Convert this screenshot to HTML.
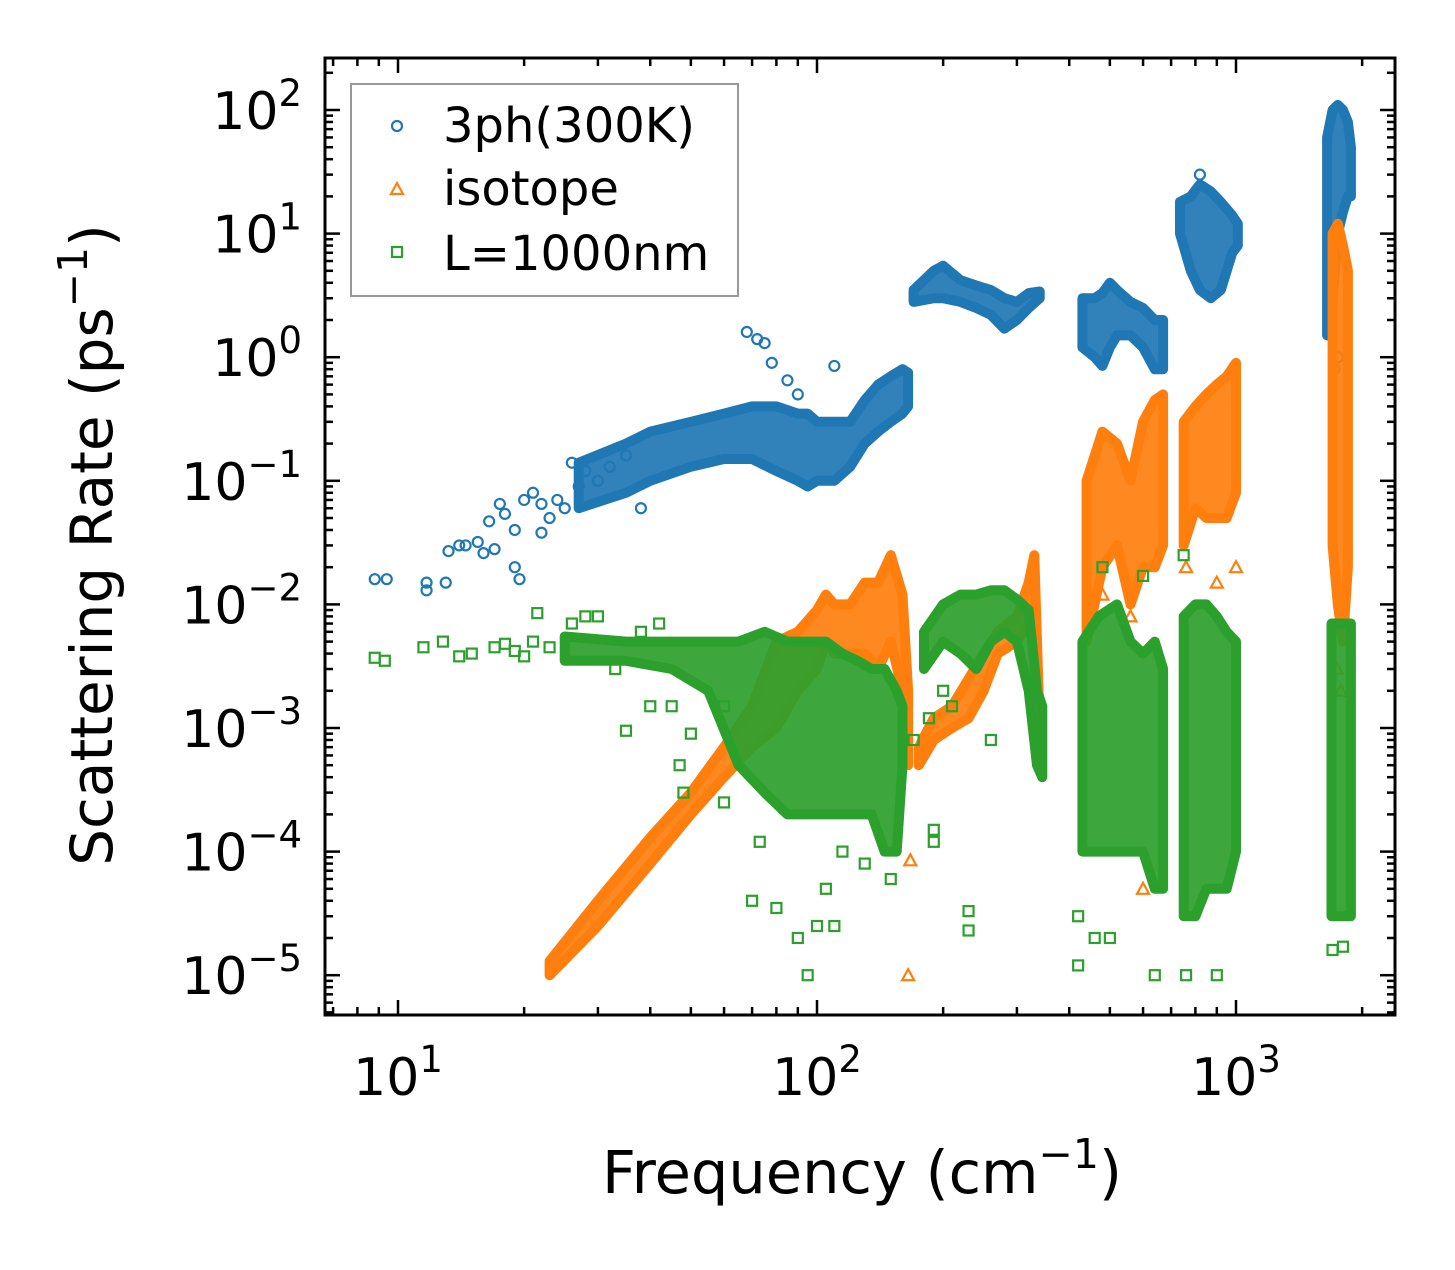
<!DOCTYPE html>
<html><head><meta charset="utf-8"><style>
html,body{margin:0;padding:0;background:#fff}
svg text{font-family:"DejaVu Sans","Liberation Sans",sans-serif;fill:#000}
</style></head><body>
<svg id="chart" width="1455" height="1265" viewBox="0 0 1455 1265" xmlns="http://www.w3.org/2000/svg">
<rect width="1455" height="1265" fill="#fff"/>
<defs><clipPath id="clip"><rect x="325" y="58" width="1070" height="957"/></clipPath></defs>
<g id="marks" clip-path="url(#clip)"></g>
<g id="axes"></g>
<g>
<rect x="351" y="84" width="387" height="212" fill="#fff" fill-opacity="0.8" stroke="#999" stroke-width="2"/>
<circle cx="397" cy="126" r="5" fill="none" stroke="#1f77b4" stroke-width="2.2"/>
<text x="443" y="142" font-size="48">3ph(300K)</text>
<polygon points="397,183 403,194 391,194" fill="none" stroke="#ff7f0e" stroke-width="2.2"/>
<text x="443" y="205" font-size="48">isotope</text>
<rect x="392" y="247" width="10" height="10" fill="none" stroke="#2ca02c" stroke-width="2.2"/>
<text x="443" y="270" font-size="48">L=1000nm</text>
</g>
<text x="862" y="1193" font-size="59" text-anchor="middle">Frequency (cm<tspan dy="-25" font-size="41">−1</tspan><tspan dy="25">)</tspan></text>
<text transform="translate(112,545) rotate(-90)" font-size="58" text-anchor="middle">Scattering Rate (ps<tspan dy="-25" font-size="41">−1</tspan><tspan dy="25">)</tspan></text>
</svg>
<script>
// ---- axis config ----
const xTickExp = [1, 2, 3];
const yTickExp = [2, 1, 0, -1, -2, -3, -4, -5];
// ---- 3ph (blue) ----
const blueBandF  = [[27,35,40,50,60,70,80,90,95,100,110,120,130,140,150,160,165],[170,190,200,220,240,260,280,300,320,340],[430,460,480,500,520,560,600,640,670],[735,780,820,870,920,980,1010],[1650,1700,1750,1800,1850,1880]];
const blueBandLo = [[0.06,0.08,0.1,0.13,0.15,0.15,0.12,0.1,0.09,0.1,0.1,0.13,0.2,0.25,0.3,0.35,0.4],[2.8,3,3,2.8,2.5,2.2,1.7,2,2.5,3],[1.2,1,0.85,1.2,1.5,1.5,1.2,0.8,0.8],[10,5,3.5,3,3.5,7,8],[1.5,3,10,15,20,20]];
const blueBandHi = [[0.14,0.2,0.25,0.3,0.35,0.4,0.4,0.35,0.35,0.3,0.3,0.3,0.45,0.6,0.7,0.8,0.75],[3.5,5,5.5,4.2,3.8,3.5,3,2.8,3.3,3.4],[3,3,3.3,4,3.5,2.8,2.5,2,2],[18,20,25,22,18,14,12],[60,100,110,100,80,50]];
const blueF = [8.8,9.4,11.7,11.7,13,13.2,14,14.5,15.5,16,16.5,17,17.5,18,19,19.5,19,20,21,22,22,23,24,25,26,27,28,30,32,35,38,68,72,75,78,85,90,110,820,1750,1720];
const blueR = [0.016,0.016,0.013,0.015,0.015,0.027,0.03,0.03,0.032,0.026,0.047,0.028,0.065,0.054,0.02,0.016,0.04,0.07,0.08,0.038,0.065,0.05,0.07,0.06,0.14,0.09,0.12,0.1,0.13,0.16,0.06,1.6,1.4,1.3,0.9,0.65,0.5,0.85,30,1.0,0.8];
// ---- isotope (orange) ----
const orBandF  = [[23,30,40,50,60,70,80,90,100,105,110,120,130,140,150,160,165],[175,190,210,230,250,270,300,320,330,340],[440,480,520,560,600,640,670],[750,800,850,900,950,1000],[1700,1750,1800,1850]];
const orBandLo = [[1e-5,2.5e-5,8e-5,2e-4,4e-4,7e-4,1e-3,2e-3,3e-3,5e-3,4e-3,4e-3,4e-3,3e-3,5e-3,2e-3,5e-4],[5e-4,8e-4,1e-3,1.2e-3,2e-3,4e-3,5e-3,7e-3,8e-3,5e-4],[5e-3,0.02,0.03,0.01,0.02,0.02,0.03],[0.03,0.06,0.05,0.05,0.05,0.08],[0.03,0.01,0.005,0.02]];
const orBandHi = [[1.3e-5,4e-5,1.3e-4,3e-4,7e-4,1.5e-3,5e-3,6e-3,9e-3,1.2e-2,1e-2,1e-2,1.5e-2,1.5e-2,2.5e-2,1.2e-2,2e-3],[7e-4,1.2e-3,1.5e-3,2.5e-3,4e-3,6e-3,8e-3,1.5e-2,2.5e-2,1e-3],[0.1,0.25,0.2,0.1,0.3,0.45,0.5],[0.3,0.4,0.5,0.6,0.7,0.9],[10,12,8,5]];
const orF = [165,600,167,480,560,760,900,1000,1740,1780];
const orR = [1e-5,5e-5,8.5e-5,0.012,0.008,0.02,0.015,0.02,0.003,0.002];
// ---- L=1000nm (green) ----
const grBandF  = [[25,35,45,55,65,75,85,95,105,115,125,135,145,155,160],[180,200,220,240,260,280,300,320,335,345],[430,470,520,560,600,640,670],[750,800,850,900,950,1000],[1690,1760,1830,1880]];
const grBandLo = [[3.5e-3,3.5e-3,3e-3,2e-3,5e-4,3e-4,2e-4,2e-4,2e-4,2e-4,2e-4,2e-4,1e-4,1e-4,5e-4],[3e-3,5e-3,4e-3,3e-3,5e-3,6e-3,5e-3,2e-3,5e-4,4e-4],[1e-4,1e-4,1e-4,1e-4,1e-4,5e-5,5e-5],[3e-5,3e-5,5e-5,5e-5,5e-5,1e-4],[3e-5,3e-5,3e-5,3e-5]];
const grBandHi = [[5.5e-3,5e-3,5e-3,5e-3,5e-3,6e-3,5e-3,5e-3,5e-3,4e-3,3.5e-3,3e-3,3e-3,2e-3,1.5e-3],[6e-3,1e-2,1.2e-2,1.2e-2,1.3e-2,1.3e-2,1.1e-2,9e-3,2e-3,1.5e-3],[5e-3,8e-3,1e-2,5e-3,4e-3,5e-3,3e-3],[8e-3,1e-2,1e-2,8e-3,6e-3,5e-3],[7e-3,7e-3,7e-3,7e-3]];
const grF = [8.8,9.3,11.5,12.8,14,15,17,18,19,20,21,21.5,23,26,28,30,33,35,38,40,42,45,47,48,70,80,90,95,100,110,105,230,230,190,190,420,420,460,500,640,760,900,1700,1800,480,750,600,60,73,115,130,150,50,60,170,185,200,210,260];
const grR = [3.7e-3,3.5e-3,4.5e-3,5e-3,3.8e-3,4e-3,4.5e-3,4.8e-3,4.2e-3,3.8e-3,5e-3,8.5e-3,4.5e-3,7e-3,8e-3,8e-3,3e-3,9.5e-4,6e-3,1.5e-3,7e-3,1.5e-3,5e-4,3e-4,4e-5,3.5e-5,2e-5,1e-5,2.5e-5,2.5e-5,5e-5,2.3e-5,3.3e-5,1.2e-4,1.5e-4,1.2e-5,3e-5,2e-5,2e-5,1e-5,1e-5,1e-5,1.6e-5,1.7e-5,2e-2,2.5e-2,1.7e-2,2.5e-4,1.2e-4,1e-4,8e-5,6e-5,9e-4,1.5e-3,8e-4,1.2e-3,2e-3,1.5e-3,8e-4];

const NS = "http://www.w3.org/2000/svg";
const X0 = 398, XD = 419, Y0 = 110, YD = 123.6;
const L = 325, R = 1395, T = 58, B = 1015;
function xs(f){ return X0 + (Math.log10(f) - 1) * XD; }
function ys(v){ return Y0 + (2 - Math.log10(v)) * YD; }
const marks = document.getElementById('marks');
const axes = document.getElementById('axes');
function mk(tag, attrs, parent){ const e = document.createElementNS(NS, tag); for (const k in attrs) e.setAttribute(k, attrs[k]); parent.appendChild(e); return e; }

function bands(F, LO, HI, color, name){
  F.forEach((fs, i) => {
    const pts = [];
    fs.forEach((f, j) => pts.push(xs(f).toFixed(1) + ',' + ys(HI[i][j]).toFixed(1)));
    for (let j = fs.length - 1; j >= 0; j--) pts.push(xs(fs[j]).toFixed(1) + ',' + ys(LO[i][j]).toFixed(1));
    const p = mk('polygon', {points: pts.join(' '), fill: color, 'fill-opacity': 0.92, stroke: color, 'stroke-width': 10, 'stroke-linejoin': 'round'}, marks);
    
    
  });
}
function points(F, V, color, shape, name){
  F.forEach((f, i) => {
    const x = xs(f), y = ys(V[i]);
    let e;
    if (shape === 'circle') e = mk('circle', {cx: x, cy: y, r: 5, fill: 'none', stroke: color, 'stroke-width': 2.2}, marks);
    else if (shape === 'tri') e = mk('polygon', {points: `${x},${y-6} ${x+6},${y+5} ${x-6},${y+5}`, fill: 'none', stroke: color, 'stroke-width': 2.2}, marks);
    else e = mk('rect', {x: x-5, y: y-5, width: 10, height: 10, fill: 'none', stroke: color, 'stroke-width': 2.2}, marks);
    
    
  });
}
bands(blueBandF, blueBandLo, blueBandHi, '#1f77b4', '3ph');
points(blueF, blueR, '#1f77b4', 'circle', '3ph');
bands(orBandF, orBandLo, orBandHi, '#ff7f0e', 'isotope');
points(orF, orR, '#ff7f0e', 'tri', 'isotope');
bands(grBandF, grBandLo, grBandHi, '#2ca02c', 'L1000nm');
points(grF, grR, '#2ca02c', 'square', 'L1000nm');

const fr = mk('rect', {x: L, y: T, width: R-L, height: B-T, fill: 'none', stroke: '#000', 'stroke-width': 3}, axes);


for (let e = 0; e <= 3; e++) for (let m = 1; m <= 9; m++){
  const f = m * Math.pow(10, e), x = xs(f);
  if (x < L || x > R) continue;
  const len = m === 1 ? 15 : 8;
  mk('line', {x1: x, y1: B, x2: x, y2: B-len, stroke: '#000', 'stroke-width': 2.5}, axes);
  mk('line', {x1: x, y1: T, x2: x, y2: T+len, stroke: '#000', 'stroke-width': 2.5}, axes);
}
xTickExp.forEach(e => {
  const t = mk('text', {x: xs(Math.pow(10, e)), y: 1095, 'font-size': 52, 'text-anchor': 'middle'}, axes);
  t.innerHTML = '10<tspan dy="-23" font-size="37">' + e + '</tspan>';
  
  
});
for (let e = -6; e <= 2; e++) for (let m = 1; m <= 9; m++){
  const v = m * Math.pow(10, e), y = ys(v);
  if (y < T || y > B) continue;
  const len = m === 1 ? 15 : 8;
  mk('line', {x1: L, y1: y, x2: L+len, y2: y, stroke: '#000', 'stroke-width': 2.5}, axes);
  mk('line', {x1: R, y1: y, x2: R-len, y2: y, stroke: '#000', 'stroke-width': 2.5}, axes);
}
yTickExp.forEach(e => {
  const t = mk('text', {x: 302, y: ys(Math.pow(10, e)) + 19, 'font-size': 52, 'text-anchor': 'end'}, axes);
  t.innerHTML = '10<tspan dy="-23" font-size="37">' + (e < 0 ? '−' + (-e) : e) + '</tspan>';
  
  
});
</script>
</body></html>
